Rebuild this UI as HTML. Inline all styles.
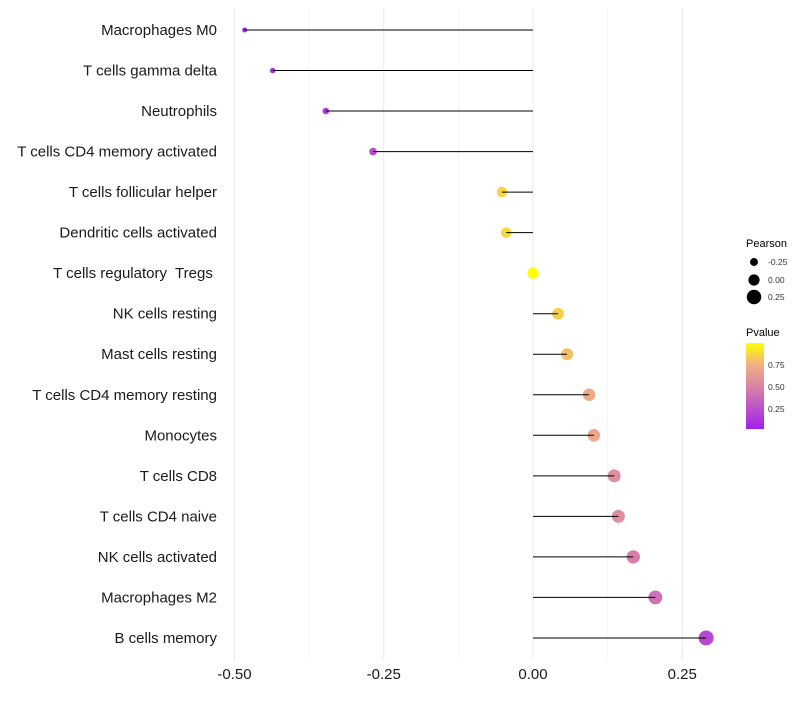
<!DOCTYPE html>
<html><head><meta charset="utf-8"><style>
body{margin:0;background:#fff;font-family:"Liberation Sans",sans-serif;}
svg text{font-family:"Liberation Sans",sans-serif;white-space:pre;}
</style></head><body>
<svg id="chart" width="800" height="700"></svg>
<script>
const categories=["Macrophages M0","T cells gamma delta","Neutrophils","T cells CD4 memory activated","T cells follicular helper","Dendritic cells activated","T cells regulatory  Tregs ","NK cells resting","Mast cells resting","T cells CD4 memory resting","Monocytes","T cells CD8","T cells CD4 naive","NK cells activated","Macrophages M2","B cells memory"];
const pearson=[-0.483,-0.436,-0.347,-0.268,-0.052,-0.045,0.0,0.042,0.057,0.094,0.102,0.136,0.143,0.168,0.205,0.29];
const pvalue=[0.03,0.08,0.14,0.22,0.86,0.88,1.0,0.85,0.8,0.72,0.69,0.55,0.55,0.47,0.4,0.2];
const xTicks=[-0.5,-0.25,0,0.25];
const xTickLabels=["-0.50","-0.25","0.00","0.25"];
const NS="http://www.w3.org/2000/svg";
const svg=document.getElementById('chart');
function X(v){return 533+v*597;}
function Y(i){return 30+i*40.53;}
function R(v){return 5.6+v*6.5;}
function lerp(a,b,t){return a+(b-a)*t;}
const stops=[[0,[160,32,240]],[0.5,[218,133,166]],[0.75,[240,176,128]],[1,[255,255,0]]];
function color(p){for(let i=1;i<stops.length;i++){if(p<=stops[i][0]){const t=(p-stops[i-1][0])/(stops[i][0]-stops[i-1][0]);const a=stops[i-1][1],b=stops[i][1];return `rgb(${Math.round(lerp(a[0],b[0],t))},${Math.round(lerp(a[1],b[1],t))},${Math.round(lerp(a[2],b[2],t))})`;}}return 'rgb(255,255,0)';}
function mk(tag,attrs,parent){const e=document.createElementNS(NS,tag);for(const k in attrs)e.setAttribute(k,attrs[k]);(parent||svg).appendChild(e);return e;}
for(let k=0;k<7;k++){
const v=-0.5+k*0.125;
const g=mk('line',{x1:X(v),x2:X(v),y1:8,y2:660,stroke:k%2===0?'#ebebeb':'#f5f5f5','stroke-width':1});


}
categories.forEach((c,i)=>{
const t=mk('text',{x:217,y:Y(i)+5,'text-anchor':'end','font-size':15,fill:'#1a1a1a'});t.textContent=c;


const d=mk('circle',{cx:X(pearson[i]),cy:Y(i),r:R(pearson[i]),fill:color(pvalue[i])});


const l=mk('line',{x1:X(0),x2:X(pearson[i]),y1:Y(i),y2:Y(i),stroke:'#000','stroke-width':1});


});
xTicks.forEach((v,i)=>{
const t=mk('text',{x:X(v),y:679,'text-anchor':'middle','font-size':15,fill:'#1a1a1a'});t.textContent=xTickLabels[i];


});
const lt=mk('text',{x:746,y:247,'font-size':11,fill:'#000'});lt.textContent='Pearson';


[[-0.25,262],[0,280],[0.25,297]].forEach(([v,y])=>{
const c=mk('circle',{cx:754,cy:y,r:R(v),fill:'#000'});


const t=mk('text',{x:768,y:y+3,'font-size':8.5,fill:'#333'});t.textContent=v.toFixed(2);


});
const pt=mk('text',{x:746,y:336,'font-size':11,fill:'#000'});pt.textContent='Pvalue';


const defs=mk('defs',{});
const lg=mk('linearGradient',{id:'pg',x1:0,y1:1,x2:0,y2:0},defs);
stops.forEach(s=>mk('stop',{offset:s[0],'stop-color':color(s[0])},lg));
const cb=mk('rect',{x:746,y:343,width:18,height:86,fill:'url(#pg)'});


function CY(p){return 429-(p-0.02)/0.98*86;}
[0.25,0.5,0.75].forEach(p=>{
const t=mk('text',{x:768,y:CY(p)+3,'font-size':8.5,fill:'#333'});t.textContent=p.toFixed(2);


});
</script>
</body></html>
